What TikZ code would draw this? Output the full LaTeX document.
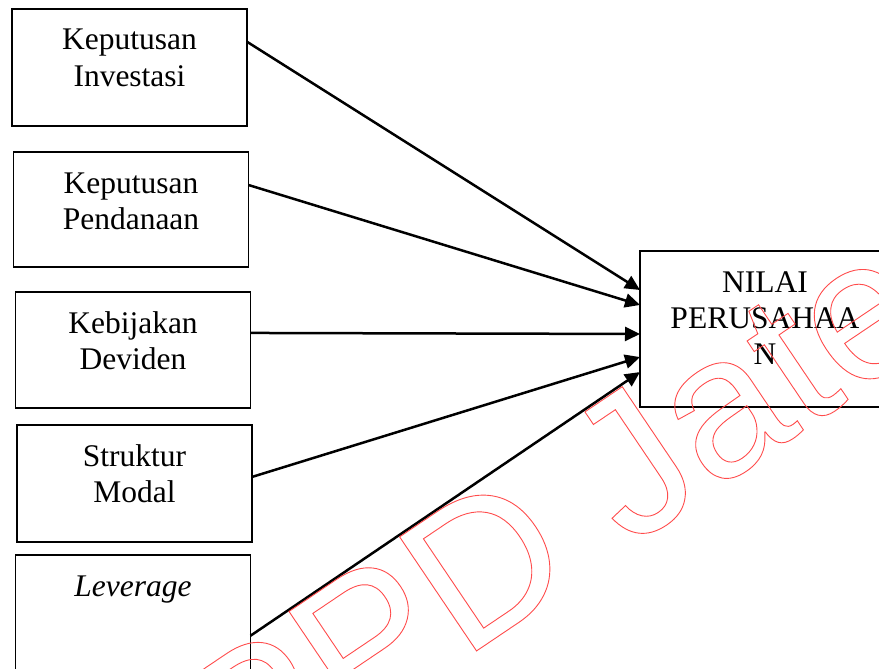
\documentclass[tikz,border=0pt]{standalone}
\usepackage{fontspec}
\setmainfont{Liberation Serif}
\newfontfamily\wmfont{Liberation Sans}
\usetikzlibrary{positioning}
\usetikzlibrary{calc}
\usetikzlibrary{arrows.meta}
\newcommand{\outlined}[1]{\special{pdf:literal direct 1 Tr 0.9 w 1 0.3 0.3 RG}#1\special{pdf:literal direct 0 Tr}}

\begin{document}
\begin{tikzpicture}[x=1pt, y=-1pt,
  varbox/.style={draw, line width=1.6pt, outer sep=0pt, inner sep=0pt, text width=235pt, align=center,
    text height=41pt, text depth=76pt, font=\fontsize{31.5}{36.2}\selectfont},
  arr/.style={line width=2.5pt, -{Triangle[length=15pt,width=14pt]}},
  watermark/.style={anchor=base west, rotate=34, inner sep=0pt, font=\wmfont\fontsize{200}{200}\selectfont}]
  \useasboundingbox (0,0) rectangle (879,669);
  \clip (0,0) rectangle (879,669);

  % left column
  \node[varbox, anchor=north west] (inv) at (12,9) {Keputusan\\Investasi};
  \node[varbox, text depth=74pt, below=26pt of inv, xshift=1.5pt] (pend) {Keputusan\\Pendanaan};
  \node[varbox, text depth=75pt, below=25pt of pend, xshift=2pt] (div) {Kebijakan\\Deviden};
  \node[varbox, below=17pt of div, xshift=1.5pt] (modal) {Struktur\\Modal};
  \node[varbox, below=13pt of modal, xshift=-1.5pt] (lev) {\textit{Leverage}};

  % right box
  \node[varbox, text width=250pt, text depth=115pt, anchor=north west] (nilai) at (640,251) {NILAI\\PERUSAHAA\\N};

  \draw[arr] ($(inv.north east)!.28!(inv.south east)$) -- ($(nilai.north west)!.25!(nilai.south west)$);
  \draw[arr] ($(pend.north east)!.287!(pend.south east)$) -- ($(nilai.north west)!.346!(nilai.south west)$);
  \draw[arr] ($(div.north east)!.353!(div.south east)$) -- ($(nilai.north west)!.532!(nilai.south west)$);
  \draw[arr] ($(modal.north east)!.444!(modal.south east)$) -- ($(nilai.north west)!.68!(nilai.south west)$);
  \draw[arr] ($(lev.north east)!.69!(lev.south east)$) -- ($(nilai.north west)!.776!(nilai.south west)$);

  % watermark
  \node[watermark] (wm) at (131,884) {\outlined{BPPD Jateng}};
\end{tikzpicture}
\end{document}
